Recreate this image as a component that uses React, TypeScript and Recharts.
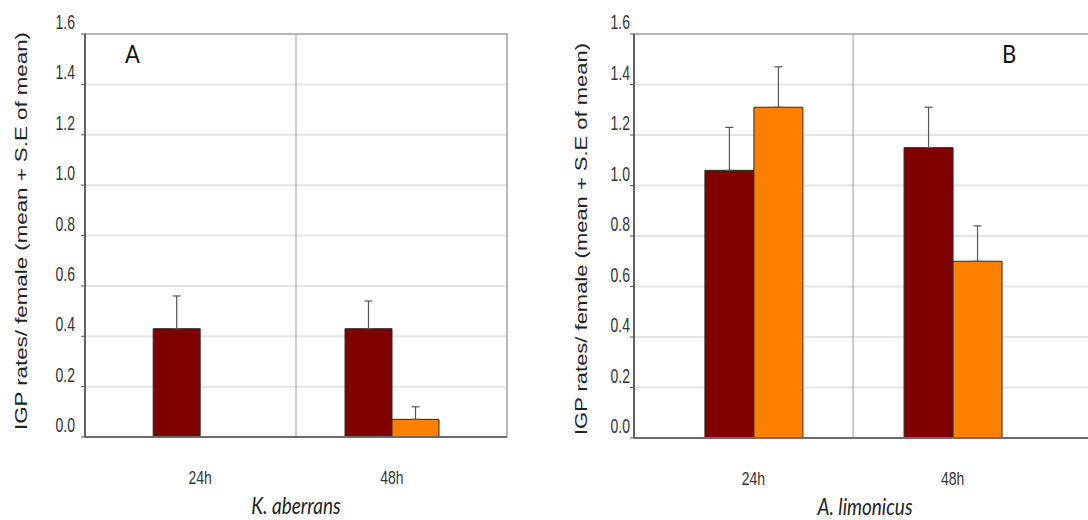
import React from "react";
import {
  BarChart,
  Bar,
  XAxis,
  YAxis,
  CartesianGrid,
  ErrorBar,
  ReferenceLine,
  ReferenceArea,
} from "recharts";

const TIMES = ["24h", "48h"];
const Y_TICKS = [0, 0.2, 0.4, 0.6, 0.8, 1.0, 1.2, 1.4, 1.6];

// K. aberrans
const KA_DARK = [0.43, 0.43];
const KA_DARK_SE = [0.13, 0.11];
const KA_ORANGE = [0, 0.07];
const KA_ORANGE_SE: (number | null)[] = [null, 0.05];

// A. limonicus
const AL_DARK = [1.06, 1.15];
const AL_DARK_SE = [0.17, 0.16];
const AL_ORANGE = [1.31, 0.7];
const AL_ORANGE_SE = [0.16, 0.14];

const MAROON = "#800000";
const ORANGE = "#ff8000";
const FONT = "'Liberation Sans', Arial, sans-serif";
const TITLE_FONT = "Lato, 'Open Sans', sans-serif";

function buildRows(dark: number[], darkSe: (number | null)[], orange: number[], orangeSe: (number | null)[]) {
  return TIMES.map((t, i) => ({
    pos: i + 1,
    time: t,
    dark: dark[i],
    darkErr: darkSe[i] == null ? undefined : [0, darkSe[i]],
    orange: orange[i],
    orangeErr: orangeSe[i] == null ? undefined : [0, orangeSe[i]],
  }));
}

// axis text is drawn a little taller than wide, like the exported figure
const XTick = ({ x, y, payload }: any) => (
  <text
    transform={`translate(${x} ${y + 47}) scale(1 1.3)`}
    textAnchor="middle"
    fontSize={14}
    fill="#333"
    fontFamily={FONT}
  >
    {TIMES[payload.value - 1]}
  </text>
);

const YTick = ({ x, y, payload }: any) => (
  <text
    transform={`translate(${x} ${y - 5}) scale(1 1.4)`}
    textAnchor="end"
    fontSize={14}
    fill="#333"
    fontFamily={FONT}
  >
    {Number(payload.value).toFixed(1)}
  </text>
);

const YTitle = ({ cx, cy, len }: any) => (
  <text
    x={cx}
    y={cy}
    transform={`rotate(-90 ${cx} ${cy})`}
    textAnchor="middle"
    dominantBaseline="central"
    fontSize={17}
    fill="#222"
    fontFamily={FONT}
    textLength={len}
    lengthAdjust="spacingAndGlyphs"
  >
    IGP rates/ female (mean + S.E of mean)
  </text>
);

const SpeciesLabel = ({ viewBox, text }: any) => {
  const cx = viewBox.x + viewBox.width / 2;
  const by = viewBox.y + 77;
  return (
    <text
      transform={`translate(${cx} ${by}) scale(1 1.2)`}
      textAnchor="middle"
      fontSize={19}
      fontStyle="italic"
      fill="#222"
      fontFamily={TITLE_FONT}
    >
      {text}
    </text>
  );
};

interface PanelProps {
  rows: ReturnType<typeof buildRows>;
  width: number;
  axisWidth: number;
  right: number;
  bottom: number;
  domain: [number, number];
  barSize: number;
  tickMargin: number;
  species: string;
  titleX: number;
  titleY: number;
  titleLen: number;
}

const Panel = ({ rows, width, axisWidth, right, bottom, domain, barSize, tickMargin, species, titleX, titleY, titleLen }: PanelProps) => (
  <BarChart width={width} height={520} data={rows} margin={{ top: 34, right, bottom: 0, left: 0 }} barGap={0}>
    <CartesianGrid vertical={false} stroke="#e4e4e4" strokeWidth={2} />
    <ReferenceArea x1={domain[0]} x2={domain[1]} y1={0} y2={1.6} fill="none" stroke="#8a8a8a" strokeWidth={1.2} ifOverflow="extendDomain" />
    <ReferenceLine x={1.5} stroke="#9a9a9a" strokeWidth={1} />
    <XAxis
      type="number"
      dataKey="pos"
      domain={domain}
      ticks={[1, 2]}
      allowDataOverflow
      height={bottom}
      tickLine={false}
      tickSize={0}
      tickMargin={0}
      tick={<XTick />}
      axisLine={{ stroke: "#6b6b6b", strokeWidth: 2 }}
      label={<SpeciesLabel text={species} />}
    />
    <YAxis
      domain={[0, 1.6]}
      ticks={Y_TICKS}
      width={axisWidth}
      tickSize={4}
      tickMargin={tickMargin}
      tick={<YTick />}
      tickLine={{ stroke: "#555" }}
      axisLine={{ stroke: "#444", strokeWidth: 1.5 }}
      label={<YTitle cx={titleX} cy={titleY} len={titleLen} />}
    />
    <Bar dataKey="dark" fill={MAROON} stroke="#2b2b2b" strokeWidth={1} barSize={barSize} isAnimationActive={false}>
      <ErrorBar dataKey="darkErr" direction="y" width={4} stroke="#555" strokeWidth={1.2} />
    </Bar>
    <Bar dataKey="orange" fill={ORANGE} stroke="#2b2b2b" strokeWidth={1} barSize={barSize} isAnimationActive={false}>
      <ErrorBar dataKey="orangeErr" direction="y" width={4} stroke="#555" strokeWidth={1.2} />
    </Bar>
  </BarChart>
);

const letterStyle: React.CSSProperties = {
  position: "absolute",
  fontFamily: TITLE_FONT,
  fontSize: 22,
  color: "#111",
  lineHeight: "22px",
  transform: "scaleY(1.1)",
};

export default function App() {
  const kaRows = buildRows(KA_DARK, KA_DARK_SE, KA_ORANGE, KA_ORANGE_SE);
  const alRows = buildRows(AL_DARK, AL_DARK_SE, AL_ORANGE, AL_ORANGE_SE);

  return (
    <div style={{ position: "absolute", left: 0, top: 0, width: 1088, height: 520, overflow: "hidden", background: "#fff" }}>
      <div style={{ position: "absolute", left: 0, top: 0 }}>
        <Panel
          rows={kaRows}
          width={540}
          axisWidth={85}
          right={33}
          bottom={83}
          domain={[0.4, 2.6]}
          barSize={47}
          tickMargin={6}
          species="K. aberrans"
          titleX={21}
          titleY={231}
          titleLen={398}
        />
      </div>
      <div style={{ position: "absolute", left: 540, top: 0 }}>
        <Panel
          rows={alRows}
          width={560}
          axisWidth={94}
          right={4}
          bottom={82}
          domain={[0.4, 2.72]}
          barSize={49}
          tickMargin={0}
          species="A. limonicus"
          titleX={41}
          titleY={239}
          titleLen={392}
        />
      </div>
      <div style={{ ...letterStyle, left: 125, top: 43 }}>A</div>
      <div style={{ ...letterStyle, left: 1002, top: 43 }}>B</div>
    </div>
  );
}
